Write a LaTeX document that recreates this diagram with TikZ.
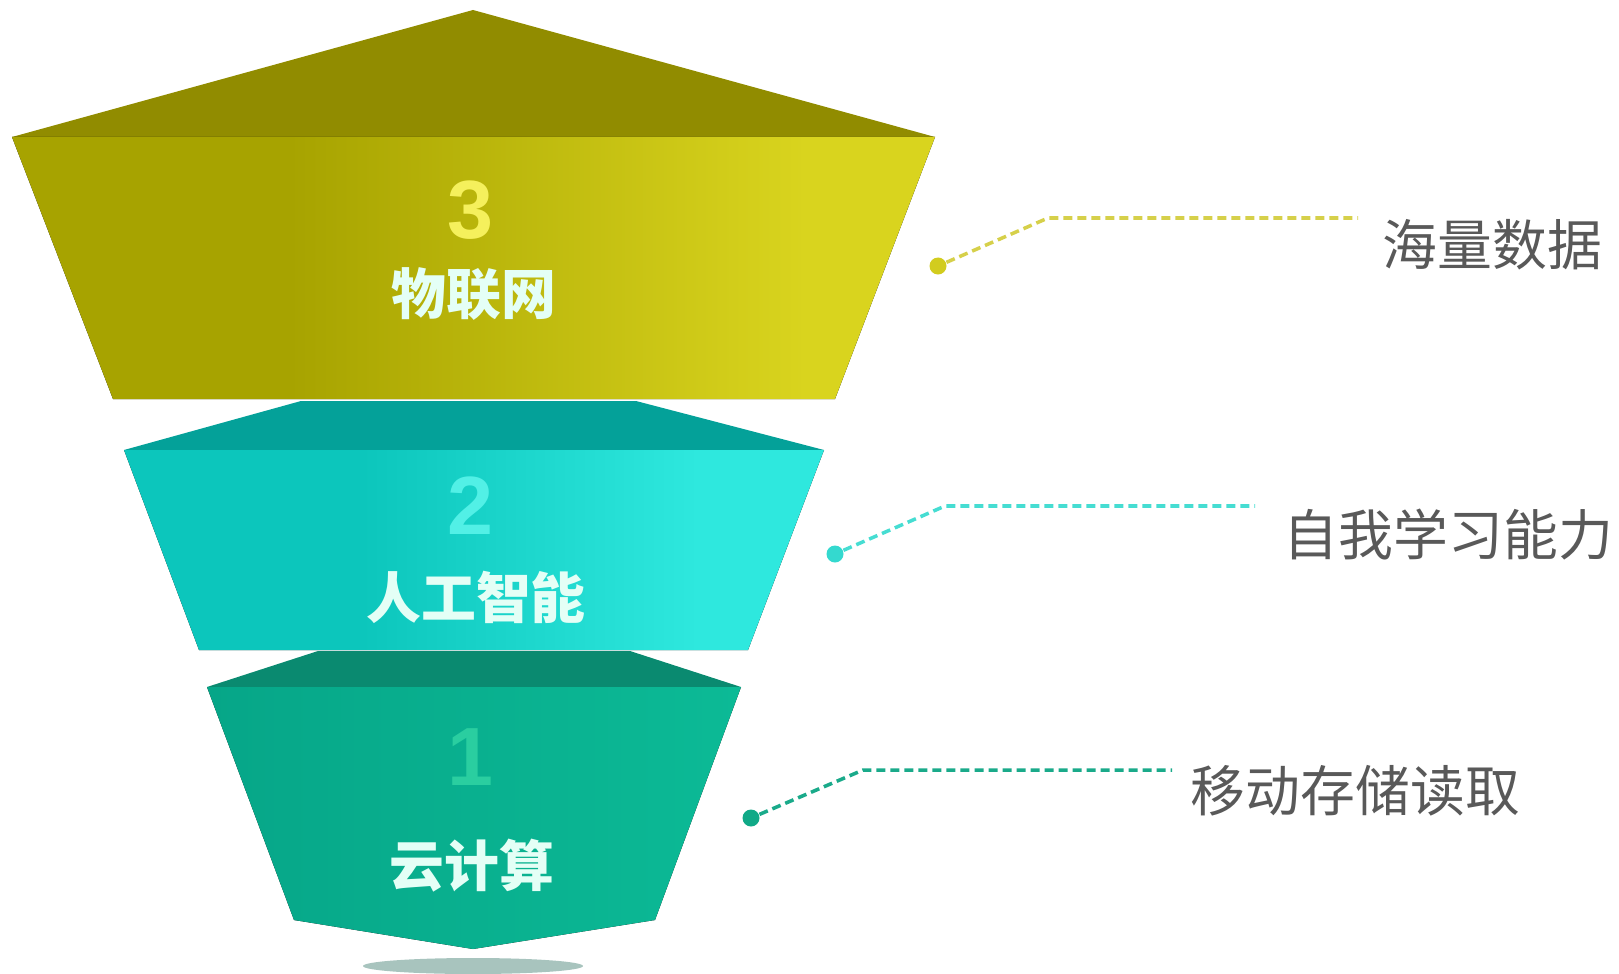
\documentclass[tikz,border=0pt]{standalone}
\usepackage{fontspec}
\newfontfamily\cjk{Noto Sans CJK SC}
\newfontfamily\numfont{Liberation Sans}
\definecolor{ylwTop}{RGB}{145,140,0}
\definecolor{ylwL}{RGB}{167,163,0}
\definecolor{ylwR}{RGB}{217,212,30}
\definecolor{cynTop}{RGB}{4,161,153}
\definecolor{cynL}{RGB}{12,198,188}
\definecolor{cynR}{RGB}{46,232,222}
\definecolor{grnTop}{RGB}{10,138,112}
\definecolor{grnL}{RGB}{6,166,136}
\definecolor{grnR}{RGB}{12,186,150}
\definecolor{shadowClr}{RGB}{168,196,190}
\definecolor{num3}{RGB}{245,240,92}
\definecolor{num2}{RGB}{82,240,230}
\definecolor{num1}{RGB}{42,206,160}
\definecolor{lbl}{RGB}{228,255,246}
\definecolor{noteGray}{RGB}{89,89,89}
\definecolor{ylwDot}{RGB}{210,204,30}
\definecolor{ylwLine}{RGB}{214,208,74}
\definecolor{cynDot}{RGB}{52,217,207}
\definecolor{cynLine}{RGB}{70,221,210}
\definecolor{grnDot}{RGB}{16,169,135}
\definecolor{grnLine}{RGB}{26,170,138}
\pgfdeclarehorizontalshading{ylwShade}{100bp}{color(0bp)=(ylwL); color(40bp)=(ylwL); color(68bp)=(ylwR); color(100bp)=(ylwR)}
\pgfdeclarehorizontalshading{cynShade}{100bp}{color(0bp)=(cynL); color(42bp)=(cynL); color(66bp)=(cynR); color(100bp)=(cynR)}
\begin{document}
\begin{tikzpicture}[x=0.01cm, y=-0.01cm,
        stage/.style={font=\cjk\bfseries\fontsize{15.6}{18}\selectfont, text=lbl, inner sep=0},
        num/.style={font=\numfont\bfseries\fontsize{23.5}{28}\selectfont, inner sep=0},
        note/.style={font=\cjk\fontsize{15.6}{18}\selectfont, text=noteGray, anchor=west, inner sep=0},
        callDot/.style={circle, fill=#1, minimum size=0.17cm, inner sep=0},
        leadLine/.style={draw=#1, dash pattern=on 0.09cm off 0.05cm, line width=1pt}]
        \useasboundingbox (0,0) rectangle (1619,973);

        % shadow under the funnel
        \fill[shadowClr] (473,966) ellipse [x radius=110, y radius=8];

        % level 1
        \fill[grnTop] (318,651) -- (630,651) -- (741,687) -- (207,687) -- cycle;
        \fill[left color=grnL, right color=grnR] (207,687) -- (741,687) -- (655,920) -- (473,949) -- (294,920) -- cycle;

        % level 2
        \fill[cynTop] (301,401) -- (636,401) -- (824,450) -- (124,450) -- cycle;
        \fill[shading=cynShade] (124,450) -- (824,450) -- (748,650) -- (199,650) -- cycle;

        % level 3
        \fill[ylwTop] (473,10) -- (935,137) -- (12,137) -- cycle;
        \fill[shading=ylwShade] (12,137) -- (935,137) -- (835,399) -- (113,399) -- cycle;

        \node[num, text=num3] (n3) at (470,210) {3};
        \node[stage] (s3) at (474,294) {物联网};
        \node[num, text=num2] (n2) at (470,506) {2};
        \node[stage] (s2) at (476,597) {人工智能};
        \node[num, text=num1] (n1) at (470,757) {1};
        \node[stage] (s1) at (472,866) {云计算};

        % callouts
        \node[callDot=ylwDot] (d3) at (938,266) {};
        \coordinate (k3) at (1048,218);
        \coordinate (e3) at (1358,218);
        \draw[leadLine=ylwLine] (d3) -- (k3) -- (e3);
        \node[note] (t3) at (1382,245) {海量数据};

        \node[callDot=cynDot] (d2) at (835,554) {};
        \coordinate (k2) at (945,506);
        \coordinate (e2) at (1255,506);
        \draw[leadLine=cynLine] (d2) -- (k2) -- (e2);
        \node[note] (t2) at (1283,535) {自我学习能力};

        \node[callDot=grnDot] (d1) at (751,818) {};
        \coordinate (k1) at (863,770);
        \coordinate (e1) at (1172,770);
        \draw[leadLine=grnLine] (d1) -- (k1) -- (e1);
        \node[note] (t1) at (1190,791) {移动存储读取};
    \end{tikzpicture}
\end{document}
